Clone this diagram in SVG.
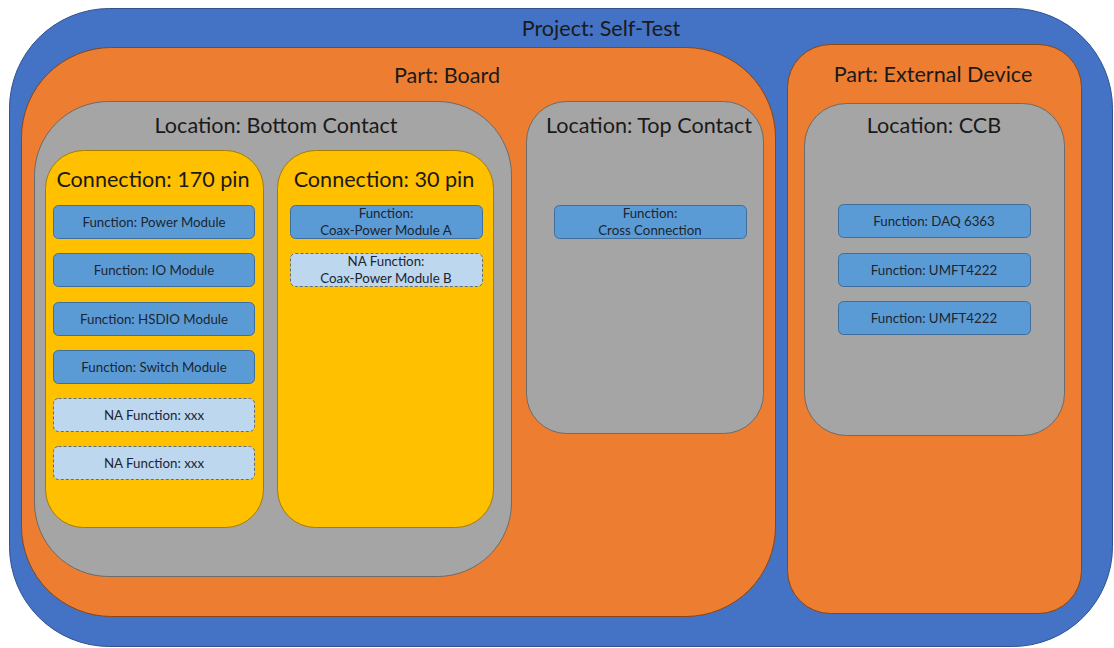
<svg xmlns="http://www.w3.org/2000/svg" width="1114" height="648" viewBox="0 0 1114 648">
<style>
text{font-family:Lato,"Open Sans","Liberation Sans",sans-serif;fill:#1a1a1a;text-anchor:middle}
.t{font-size:21.6px}
.f{font-size:13.3px;fill:#1c2530}
.proj{fill:#4472C4;stroke:#2F528F;stroke-width:1}
.part{fill:#ED7D31;stroke:#8B4513;stroke-width:1}
.loc{fill:#A5A5A5;stroke:#6b6b6b;stroke-width:1}
.con{fill:#FFC000;stroke:#A67C00;stroke-width:1}
.fn{fill:#5B9BD5;stroke:#3F6E9C;stroke-width:1}
.na{fill:#BDD7EE;stroke:#5a6f85;stroke-width:1;stroke-dasharray:3 2}
</style>
<g id="project">
<rect class="proj" x="9.5" y="8.5" width="1103" height="638" rx="100"/>
<text class="t" x="601" y="36">Project: Self-Test</text>
</g>
<g id="part-board">
<rect class="part" x="21.5" y="47.5" width="754" height="569" rx="90"/>
<text class="t" x="447" y="83">Part: Board</text>
</g>
<g id="part-external">
<rect class="part" x="787.5" y="44.5" width="294" height="569" rx="43"/>
<text class="t" x="933" y="82">Part: External Device</text>
</g>
<g id="loc-bottom">
<rect class="loc" x="34.5" y="101.5" width="477" height="475" rx="74"/>
<text class="t" x="276" y="133">Location: Bottom Contact</text>
</g>
<g id="loc-top">
<rect class="loc" x="526.5" y="101.5" width="237" height="332" rx="40"/>
<text class="t" x="649" y="133">Location: Top Contact</text>
</g>
<g id="loc-ccb">
<rect class="loc" x="804.5" y="103.5" width="260" height="332" rx="42"/>
<text class="t" x="934" y="133">Location: CCB</text>
</g>
<g id="con-170">
<rect class="con" x="45.5" y="150.5" width="218" height="377" rx="38"/>
<text class="t" x="153" y="187">Connection: 170 pin</text>
</g>
<g id="con-30">
<rect class="con" x="277.5" y="150.5" width="216" height="377" rx="38"/>
<text class="t" x="384" y="187">Connection: 30 pin</text>
</g>
<g id="fn-power">
<rect class="fn" x="53.5" y="205.5" width="201" height="33" rx="5"/>
<text class="f" x="154" y="226.5">Function: Power Module</text>
</g>
<g id="fn-io">
<rect class="fn" x="53.5" y="253.5" width="201" height="33" rx="5"/>
<text class="f" x="154" y="274.5">Function: IO Module</text>
</g>
<g id="fn-hsdio">
<rect class="fn" x="53.5" y="302.5" width="201" height="33" rx="5"/>
<text class="f" x="154" y="323.5">Function: HSDIO Module</text>
</g>
<g id="fn-switch">
<rect class="fn" x="53.5" y="350.5" width="201" height="33" rx="5"/>
<text class="f" x="154" y="371.5">Function: Switch Module</text>
</g>
<g id="na-xxx-1">
<rect class="na" x="53.5" y="398.5" width="201" height="33" rx="5"/>
<text class="f" x="154" y="419.5">NA Function: xxx</text>
</g>
<g id="na-xxx-2">
<rect class="na" x="53.5" y="446.5" width="201" height="33" rx="5"/>
<text class="f" x="154" y="467.5">NA Function: xxx</text>
</g>
<g id="fn-coax-a">
<rect class="fn" x="290.5" y="205.5" width="192" height="33" rx="5"/>
<text class="f" x="386" y="217.5">Function:</text>
<text class="f" x="386" y="234.5">Coax-Power Module A</text>
</g>
<g id="na-coax-b">
<rect class="na" x="290.5" y="253.5" width="192" height="33" rx="5"/>
<text class="f" x="386" y="265.5">NA Function:</text>
<text class="f" x="386" y="282.5">Coax-Power Module B</text>
</g>
<g id="fn-cross">
<rect class="fn" x="554.5" y="205.5" width="192" height="33" rx="5"/>
<text class="f" x="650" y="217.5">Function:</text>
<text class="f" x="650" y="234.5">Cross Connection</text>
</g>
<g id="fn-daq">
<rect class="fn" x="838.5" y="204.5" width="192" height="33" rx="5"/>
<text class="f" x="934" y="225.5">Function: DAQ 6363</text>
</g>
<g id="fn-umft-1">
<rect class="fn" x="838.5" y="253.5" width="192" height="33" rx="5"/>
<text class="f" x="934" y="274.5">Function: UMFT4222</text>
</g>
<g id="fn-umft-2">
<rect class="fn" x="838.5" y="301.5" width="192" height="33" rx="5"/>
<text class="f" x="934" y="322.5">Function: UMFT4222</text>
</g>
<g id="connectors"></g>
</svg>
